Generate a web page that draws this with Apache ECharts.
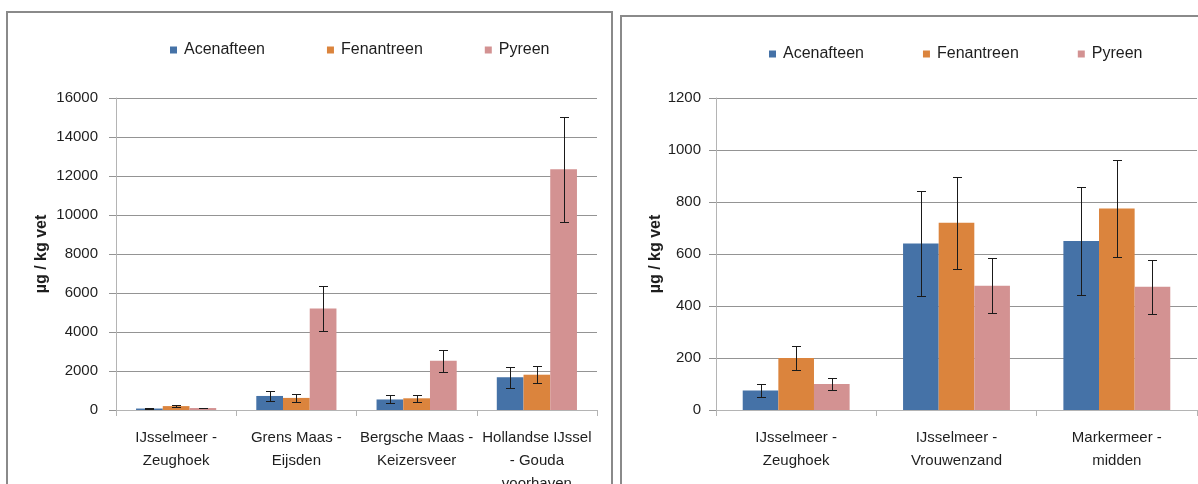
<!DOCTYPE html>
<html><head><meta charset="utf-8">
<script src="https://cdn.jsdelivr.net/npm/echarts@6/dist/echarts.min.js"></script>
<style>html,body{margin:0;padding:0;background:#fff}#c{width:1198px;height:484px}</style>
</head><body><div id="c"></div>
<script>
const seriesNames = ['Acenafteen', 'Fenantreen', 'Pyreen'];
const colors = ['#4572A7', '#DB843D', '#D39292'];

const leftCategories = ['IJsselmeer -\nZeughoek', 'Grens Maas -\nEijsden', 'Bergsche Maas -\nKeizersveer', 'Hollandse IJssel\n- Gouda\nvoorhaven'];
const leftAcenafteen = [75, 720, 540, 1680];
const leftAcenafteenErr = [25, 255, 205, 535];
const leftFenantreen = [200, 620, 600, 1810];
const leftFenantreenErr = [48, 185, 165, 445];
const leftPyreen = [100, 5200, 2530, 12340];
const leftPyreenErr = [23, 1150, 565, 2690];
const leftAxisMin = 0, leftAxisMax = 16000, leftAxisStep = 2000;

const rightCategories = ['IJsselmeer -\nZeughoek', 'IJsselmeer -\nVrouwenzand', 'Markermeer -\nmidden'];
const rightAcenafteen = [75, 640, 650];
const rightAcenafteenErr = [25, 203, 206];
const rightFenantreen = [200, 720, 775];
const rightFenantreenErr = [48, 177, 188];
const rightPyreen = [100, 478, 474];
const rightPyreenErr = [23, 105, 104];
const rightAxisMin = 0, rightAxisMax = 1200, rightAxisStep = 200;

const yTitle = 'µg / kg vet';

const FONT = '"Liberation Sans", Arial, sans-serif';
const TXT = '#1e1e1e';

const leftVals = [leftAcenafteen, leftFenantreen, leftPyreen];
const leftErrs = [leftAcenafteenErr, leftFenantreenErr, leftPyreenErr];
const rightVals = [rightAcenafteen, rightFenantreen, rightPyreen];
const rightErrs = [rightAcenafteenErr, rightFenantreenErr, rightPyreenErr];

function errRender(sIdx) {
  return function (params, api) {
    const x = api.value(0), v = api.value(1), e = api.value(2);
    const band = api.size([1, 0])[0];
    const bw = band / 4.5;
    const off = (sIdx - 1) * bw;
    const top = api.coord([x, v + e]);
    const bot = api.coord([x, v - e]);
    const cx = Math.round(top[0] + off) + 0.5;
    const ty = Math.round(top[1]) + 0.5, by = Math.round(bot[1]) + 0.5;
    const hw = 4.5;
    const st = { stroke: '#1a1a1a', lineWidth: 1 };
    return {
      type: 'group', children: [
        { type: 'line', shape: { x1: cx, y1: ty, x2: cx, y2: by }, style: st },
        { type: 'line', shape: { x1: cx - hw, y1: ty, x2: cx + hw, y2: ty }, style: st },
        { type: 'line', shape: { x1: cx - hw, y1: by, x2: cx + hw, y2: by }, style: st }
      ]
    };
  };
}

function makeSeries(gi, vals, errs) {
  const out = [];
  for (let s = 0; s < 3; s++) {
    out.push({
      name: seriesNames[s], type: 'bar', xAxisIndex: gi, yAxisIndex: gi,
      data: vals[s], barGap: '0%', barCategoryGap: '33.333%',
      itemStyle: { color: colors[s] }, z: 2
    });
  }
  for (let s = 0; s < 3; s++) {
    out.push({
      name: 'err' + gi + s, type: 'custom', xAxisIndex: gi, yAxisIndex: gi,
      data: vals[s].map((v, i) => [i, v, errs[s][i]]),
      encode: { x: 0, y: 1 }, renderItem: errRender(s), z: 5, silent: true
    });
  }
  return out;
}

function xAxis(gi, cats) {
  return {
    type: 'category', gridIndex: gi, data: cats,
    axisLine: { lineStyle: { color: '#b4b4b4', width: 1 } },
    axisTick: { show: true, length: 6, lineStyle: { color: '#b4b4b4' } },
    axisLabel: { interval: 0, margin: 16, color: TXT, fontFamily: FONT, fontSize: 15, lineHeight: 23 }
  };
}
function yAxis(gi, mn, mx, step, gap, lm) {
  return {
    type: 'value', gridIndex: gi, min: mn, max: mx, interval: step,
    name: yTitle, nameLocation: 'middle', nameGap: gap, nameRotate: 90,
    nameTextStyle: { fontFamily: FONT, fontSize: 16, fontWeight: 'bold', color: TXT },
    axisLine: { show: true, lineStyle: { color: '#b4b4b4' } },
    axisTick: { show: true, length: 7, lineStyle: { color: '#949494' } },
    splitLine: { lineStyle: { color: '#949494', width: 1 } },
    axisLabel: { margin: lm, color: TXT, fontFamily: FONT, fontSize: 15, formatter: v => String(v) }
  };
}
function legend(left, top, gap) {
  return {
    data: seriesNames, left: left, top: top, itemWidth: 7, itemHeight: 7, itemGap: gap,
    icon: 'rect', padding: 0,
    textStyle: { fontFamily: FONT, fontSize: 16, color: TXT, padding: [0, 0, 0, 2] }
  };
}

const chart = echarts.init(document.getElementById('c'), null, { renderer: 'canvas' });
chart.setOption({
  animation: false,
  backgroundColor: '#ffffff',
  graphic: [
    { type: 'rect', shape: { x: 7, y: 12, width: 605, height: 490 }, style: { fill: 'none', stroke: '#8a8a8a', lineWidth: 2 }, silent: true, z: -1 },
    { type: 'rect', shape: { x: 621, y: 16, width: 600, height: 490 }, style: { fill: 'none', stroke: '#8a8a8a', lineWidth: 2 }, silent: true, z: -1 }
  ],
  legend: [legend(170, 42, 62), legend(769, 46, 59)],
  grid: [
    { left: 116, top: 98, width: 481, height: 312, outerBoundsMode: 'none', containLabel: false },
    { left: 716, top: 98, width: 481, height: 312, outerBoundsMode: 'none', containLabel: false }
  ],
  xAxis: [xAxis(0, leftCategories), xAxis(1, rightCategories)],
  yAxis: [yAxis(0, leftAxisMin, leftAxisMax, leftAxisStep, 66, 18), yAxis(1, rightAxisMin, rightAxisMax, rightAxisStep, 52, 15)],
  series: makeSeries(0, leftVals, leftErrs).concat(makeSeries(1, rightVals, rightErrs))
});
</script></body></html>
